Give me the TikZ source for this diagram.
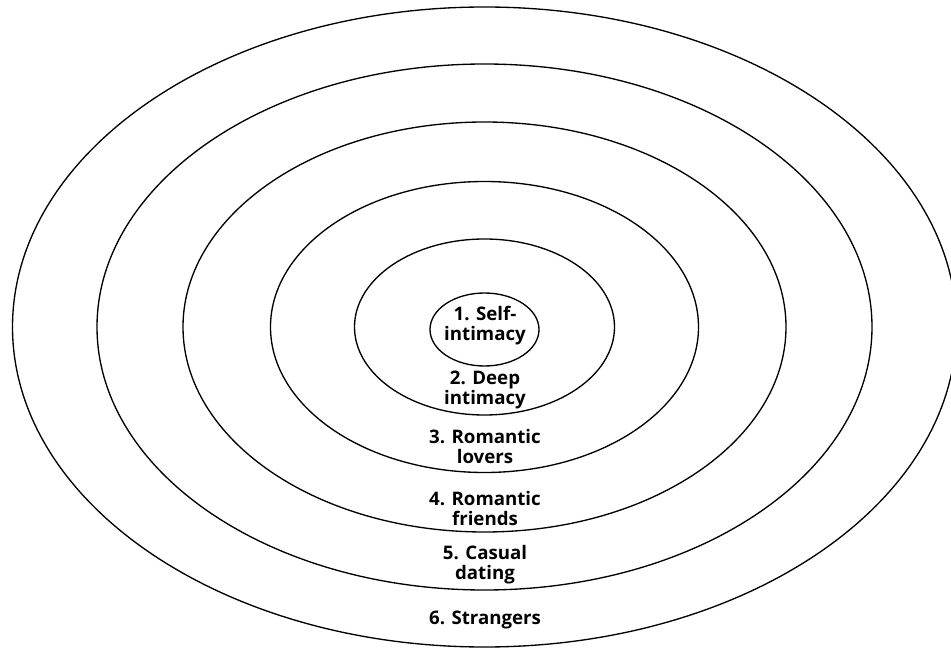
\documentclass[tikz,border=0pt]{standalone}
\usepackage{fontspec}
\setmainfont{Open Sans}
\usepackage{tikz}

\begin{document}
\begin{tikzpicture}[x=0.75pt,y=-0.75pt,
        ring/.style={line width=1pt},
        lbl/.style={font=\fontsize{14}{15}\selectfont\bfseries, align=center, inner sep=0pt}]
                \useasboundingbox (0,0) rectangle (951,649);
                \coordinate (c) at (484.5,327);
                \foreach \rx/\ry in {472/320, 387.5/263, 301.5/205, 214/145.5, 130/88}
                    \draw[ring] (c) ellipse [x radius=\rx, y radius=\ry];
                \draw[ring] (484.5,329.5) ellipse [x radius=54.5, y radius=36.5];
                \node[lbl] (self) at (485,326) {1. Self-\\intimacy};
                \node[lbl] (deep) at (485,390) {2. Deep\\intimacy};
                \node[lbl] (lovers) at (485,446) {3. Romantic\\lovers};
                \node[lbl] (friends) at (485,508) {4. Romantic\\friends};
                \node[lbl] (dating) at (485,565) {5. Casual\\dating};
                \node[lbl] (strangers) at (485,619.5) {6. Strangers};
            \end{tikzpicture}
\end{document}
